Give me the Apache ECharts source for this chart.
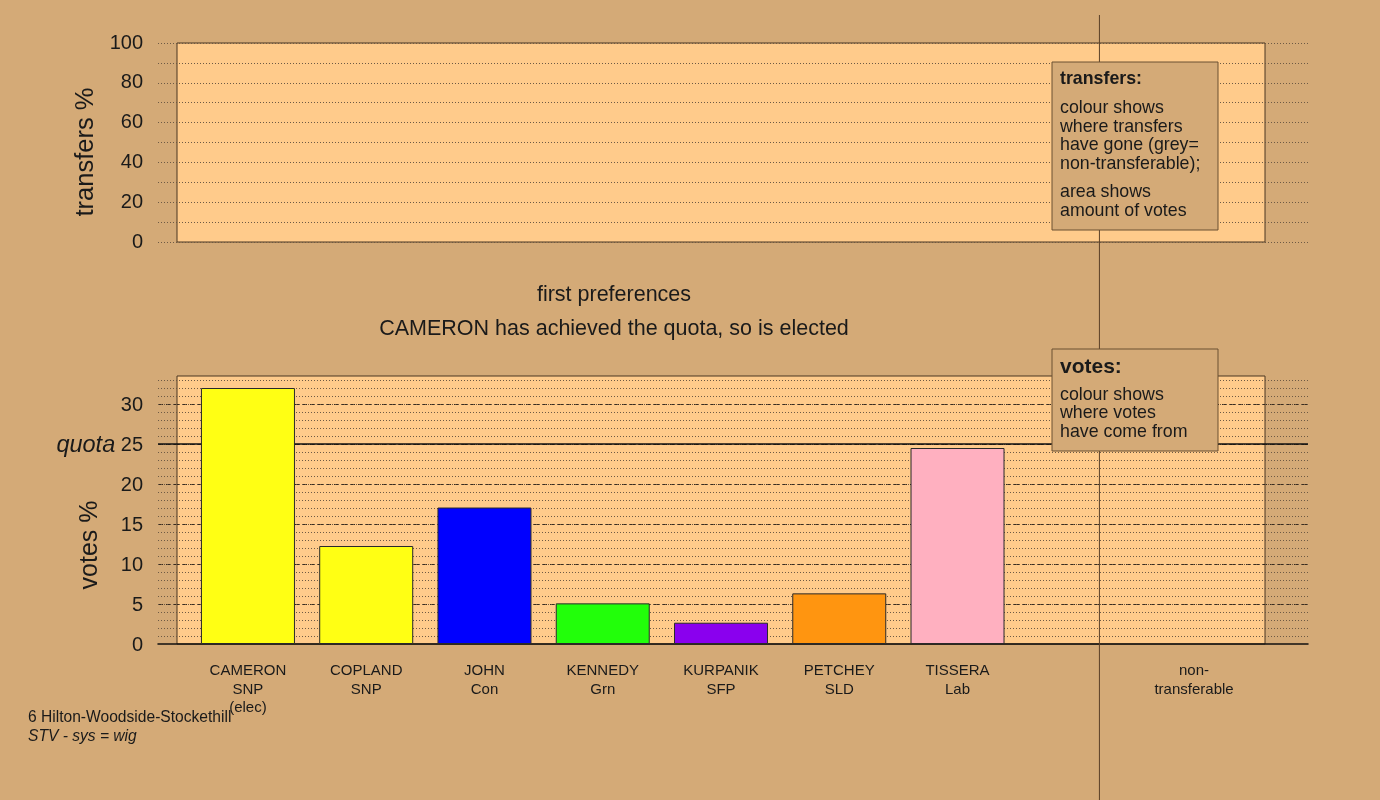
<!DOCTYPE html>
<html>
<head>
<meta charset="utf-8">
<script src="https://cdn.jsdelivr.net/npm/echarts@6/dist/echarts.min.js"></script>
<style>
  html, body { margin: 0; padding: 0; background: #D4AA77; }
  #chart { width: 1380px; height: 800px; }
</style>
</head>
<body>
<div id="chart"></div>
<script>
// Ward 6 Hilton-Woodside-Stockethill, STV count: first preferences
const candidates = ['CAMERON', 'COPLAND', 'JOHN', 'KENNEDY', 'KURPANIK', 'PETCHEY', 'TISSERA'];
const parties    = ['SNP', 'SNP', 'Con', 'Grn', 'SFP', 'SLD', 'Lab'];
const statusNote = ['(elec)', '', '', '', '', '', ''];
const firstPrefs = [32.0, 12.25, 17.06, 5.08, 2.66, 6.33, 24.5];   // votes %
const barColours = ['#FFFF14', '#FFFF14', '#0000FF', '#22FF0A', '#8A00EE', '#FF9510', '#FFB0C0'];
const quota = 25;
const nonTransferableLabel = 'non-\ntransferable';

const transferTicks = [0, 20, 40, 60, 80, 100];
const voteTicks = [0, 5, 10, 15, 20, 25, 30];

const wardName = '6 Hilton-Woodside-Stockethill';
const systemNote = 'STV - sys = wig';
const stageTitle = 'first preferences';
const stageNote = 'CAMERON has achieved the quota, so is elected';

// one slot per candidate, an empty spacer slot, then the non-transferable slot
const slotLabels = candidates
  .map((c, i) => [c, parties[i], statusNote[i]].filter(Boolean).join('\n'))
  .concat(['', nonTransferableLabel]);
const slotIdx = slotLabels.map((_, i) => i);

const BOX_MIN = -0.6, BOX_MAX = 8.6;          // framed panel, in slot units
const GUIDE_MIN = -0.761, GUIDE_MAX = 8.963;  // guide lines run a little past the frame
const SEPARATOR_AT = 7.2;                     // divider before the non-transferable slot

const FONT = '"Liberation Sans", Arial, Helvetica, sans-serif';
const BG = '#D4AA77';
const PANEL = '#FFCB8B';
const FRAME = '#4a3722';
const INK = '#1a1a1a';
const DOT = '#6e5a44';
const DASH = '#3a2c1e';

const chart = echarts.init(document.getElementById('chart'), null, { renderer: 'canvas' });

const hidden = { show: false };

const option = {
  backgroundColor: BG,
  animation: false,
  textStyle: { fontFamily: FONT, color: INK },
  grid: [
    { left: 177, top: 43, width: 1088, height: 199, show: true, backgroundColor: PANEL, borderColor: FRAME, borderWidth: 1, z: 0 },
    { left: 158, top: 43, width: 1150, height: 199, z: 0 },
    { left: 177, top: 376, width: 1088, height: 268, show: true, backgroundColor: PANEL, borderColor: FRAME, borderWidth: 1, z: 0 },
    { left: 158, top: 376, width: 1150, height: 268, z: 0 }
  ],
  xAxis: [
    { gridIndex: 0, type: 'value', min: BOX_MIN, max: BOX_MAX, show: false },
    { gridIndex: 1, type: 'value', min: GUIDE_MIN, max: GUIDE_MAX, show: false },
    {
      gridIndex: 2, type: 'value', min: BOX_MIN, max: BOX_MAX,
      axisLine: hidden, axisTick: hidden, splitLine: hidden,
      axisLabel: {
        customValues: slotIdx,
        formatter: v => slotLabels[Math.round(v)] || '',
        fontFamily: FONT, fontSize: 15, lineHeight: 18.5, color: INK, margin: 18
      }
    },
    {
      gridIndex: 3, type: 'value', min: GUIDE_MIN, max: GUIDE_MAX, z: 1,
      axisLine: { show: true, onZero: false, lineStyle: { color: '#111', width: 1.5 } },
      axisTick: hidden, axisLabel: hidden, splitLine: hidden
    }
  ],
  yAxis: [
    { gridIndex: 0, type: 'value', min: 0, max: 100, show: false },
    {
      gridIndex: 1, type: 'value', min: 0, max: 100, interval: 10, z: 1,
      axisLine: hidden, axisTick: hidden,
      axisLabel: {
        formatter: v => (transferTicks.includes(v) ? String(v) : ''),
        fontFamily: FONT, fontSize: 20, color: INK, margin: 15,
        padding: [3, 0, 0, 0]
      },
      splitLine: { show: true, lineStyle: { color: DOT, width: 1, type: [1, 2] } }
    },
    { gridIndex: 2, type: 'value', min: 0, max: 33.5, show: false },
    {
      gridIndex: 3, type: 'value', min: 0, max: 33.5, interval: 5, z: 1,
      axisLine: hidden, axisTick: hidden,
      axisLabel: {
        formatter: v => {
          if (!voteTicks.includes(v)) return '';
          return v === quota ? '{q|quota} ' + v : String(v);
        },
        fontFamily: FONT, fontSize: 20, color: INK, margin: 15,
        padding: [3, 0, 0, 0],
        rich: { q: { fontFamily: FONT, fontStyle: 'italic', fontSize: 23.5, color: INK } }
      },
      splitLine: { show: true, showMinLine: false, showMaxLine: false, lineStyle: { color: DASH, width: 1, type: [5, 3] } }
    },
    {
      gridIndex: 3, type: 'value', min: 0, max: 33.5, interval: 1, z: 1,
      axisLine: hidden, axisTick: hidden, axisLabel: hidden,
      splitLine: { show: true, showMinLine: false, showMaxLine: false, lineStyle: { color: DOT, width: 1, type: [1, 2] } }
    }
  ],
  series: [
    {
      name: 'first preferences',
      type: 'bar',
      xAxisIndex: 2, yAxisIndex: 2,
      barWidth: 94,
      z: 4,
      silent: true,
      itemStyle: { borderColor: '#2a2a2a', borderWidth: 1 },
      data: firstPrefs.map((v, i) => ({ value: [i, v], itemStyle: { color: barColours[i] } }))
    },
    {
      name: 'quota',
      type: 'line',
      xAxisIndex: 3, yAxisIndex: 3,
      data: [],
      z: 2,
      markLine: {
        z: 2,
        silent: true,
        symbol: ['none', 'none'],
        label: { show: false },
        lineStyle: { type: 'solid', color: '#111', width: 1.5 },
        data: [{ yAxis: quota }]
      }
    }
  ]
};

chart.setOption(option);

// divider and annotations
const sepX = chart.convertToPixel({ xAxisIndex: 2 }, SEPARATOR_AT);

function textEl(x, y, text, size, extra) {
  return Object.assign({
    type: 'text', x: x, y: y, z: 61,
    style: Object.assign({
      text: text, fontFamily: FONT, fontSize: size, fill: INK,
      textAlign: 'left', textVerticalAlign: 'middle'
    }, (extra && extra.style) || {})
  }, extra && extra.el ? extra.el : {});
}

function noteBox(x, y, w, h, heading, headingSize, headingY, lines) {
  const els = [{
    type: 'rect', z: 60,
    shape: { x: x, y: y, width: w, height: h },
    style: { fill: BG, stroke: '#6b5132', lineWidth: 1 }
  }];
  els.push(textEl(x + 8, headingY, heading, headingSize, { style: { fontWeight: 'bold' } }));
  lines.forEach(l => els.push(textEl(x + 8, l[1], l[0], 17.8)));
  return els;
}

const graphics = [
  {
    type: 'line', z: 50, silent: true,
    shape: { x1: sepX, y1: 15, x2: sepX, y2: 800 },
    style: { stroke: '#5a4028', lineWidth: 1 }
  },
  textEl(614, 295, stageTitle, 21.5, { style: { textAlign: 'center' } }),
  textEl(614, 329, stageNote, 21.5, { style: { textAlign: 'center' } }),
  textEl(86, 152, 'transfers %', 25.5, { style: { textAlign: 'center' }, el: { rotation: Math.PI / 2 } }),
  textEl(90, 545, 'votes %', 25, { style: { textAlign: 'center' }, el: { rotation: Math.PI / 2 } }),
  textEl(28, 718, wardName, 15.6),
  textEl(28, 737, systemNote, 15.6, { style: { fontStyle: 'italic' } })
]
  .concat(noteBox(1052, 62, 166, 168, 'transfers:', 17.8, 79, [
    ['colour shows', 108],
    ['where transfers', 127],
    ['have gone (grey=', 145],
    ['non-transferable);', 164],
    ['area shows', 192],
    ['amount of votes', 211]
  ]))
  .concat(noteBox(1052, 349, 166, 102, 'votes:', 21, 367, [
    ['colour shows', 395],
    ['where votes', 413],
    ['have come from', 432]
  ]));

chart.setOption({ graphic: graphics });
</script>
</body>
</html>
